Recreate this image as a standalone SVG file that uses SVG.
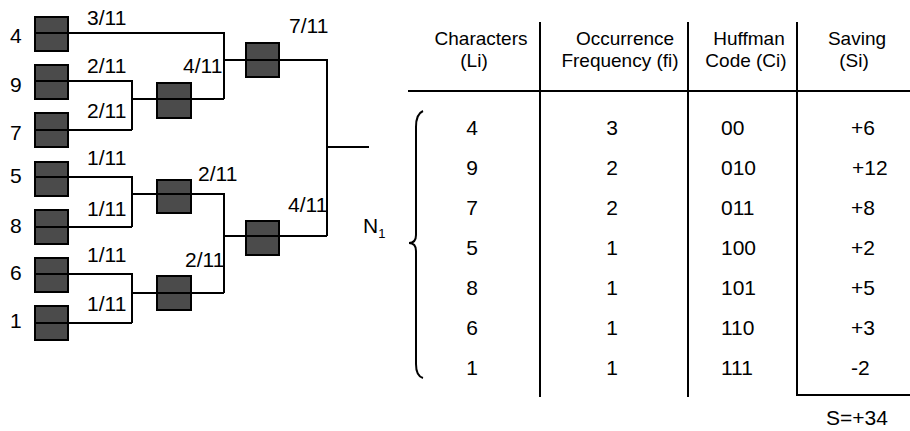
<svg xmlns="http://www.w3.org/2000/svg" width="910" height="431" viewBox="0 0 910 431">
<style>
.ln{stroke:#000;stroke-width:2;fill:none}
.box{fill:#4b4b4b;stroke:#000;stroke-width:2}
text{font-family:"Liberation Sans",Arial,sans-serif;font-size:21px;fill:#000}
.c{text-anchor:middle}
.h{font-size:19px;text-anchor:middle}
.d{font-size:22px}
</style>
<rect width="910" height="431" fill="#fff"/>
<g id="nodes">
<g id="leaf4"><rect class="box" x="35" y="17" width="33" height="34"/><text x="10" y="43">4</text></g>
<g id="leaf9"><rect class="box" x="35" y="65" width="33" height="34"/><text x="10" y="92">9</text></g>
<g id="leaf7"><rect class="box" x="35" y="113" width="33" height="34"/><text x="10" y="140">7</text></g>
<g id="leaf5"><rect class="box" x="35" y="162" width="33" height="34"/><text x="10" y="183">5</text></g>
<g id="leaf8"><rect class="box" x="35" y="210" width="33" height="34"/><text x="10" y="233">8</text></g>
<g id="leaf6"><rect class="box" x="35" y="258" width="33" height="34"/><text x="10" y="280">6</text></g>
<g id="leaf1"><rect class="box" x="35" y="306" width="33" height="34"/><text x="10" y="328">1</text></g>
<g id="n97"><rect class="box" x="157" y="83" width="34" height="35"/></g>
<g id="n58"><rect class="box" x="157" y="180" width="34" height="33"/></g>
<g id="n61"><rect class="box" x="157" y="276" width="34" height="34"/></g>
<g id="ntop"><rect class="box" x="246" y="43" width="33" height="34"/></g>
<g id="nbot"><rect class="box" x="246" y="221" width="33" height="34"/></g>
</g>
<g id="connectors">
<path class="ln" d="M35,33H224V99M35,81H132V130M35,130H132M132,99H224M224,60H327V236M327,147H369M35,177H132V227M35,227H132M132,194H224V293M35,274H132V323M35,323H132M132,293H224M224,236H327"/>
</g>
<g id="weights">
<text x="87" y="25">3/11</text>
<text x="87" y="73">2/11</text>
<text x="87" y="118">2/11</text>
<text x="183" y="73">4/11</text>
<text x="289" y="33">7/11</text>
<text x="87" y="165">1/11</text>
<text x="198" y="181">2/11</text>
<text x="87" y="216">1/11</text>
<text x="288" y="212">4/11</text>
<text x="87" y="262">1/11</text>
<text x="185" y="267">2/11</text>
<text x="87" y="311">1/11</text>
</g>
<g id="n1label"><text x="363" y="233" font-size="20">N<tspan font-size="13" dy="5">1</tspan></text></g>
<g id="brace"><path class="ln" stroke-width="1.8" d="M423,111Q416,114 416,127V235Q416,243 409,243Q416,243 416,251V364Q416,376 423,378"/></g>
<g id="table">
<path class="ln" d="M540,22V397M688,22V397M797,22V395H910M408,91H910"/>
<text class="h" x="481" y="45">Characters</text>
<text class="h" x="474" y="67">(Li)</text>
<text class="h" x="625" y="45">Occurrence</text>
<text class="h" x="620" y="67">Frequency (fi)</text>
<text class="h" x="749" y="45">Huffman</text>
<text class="h" x="746" y="67">Code (Ci)</text>
<text class="h" x="857" y="45">Saving</text>
<text class="h" x="854" y="67">(Si)</text>
<g class="d">
<g class="c">
<text x="472" y="135">4</text><text x="472" y="175">9</text><text x="472" y="215">7</text><text x="472" y="255">5</text><text x="472" y="295">8</text><text x="472" y="335">6</text><text x="472" y="375">1</text>
<text x="612" y="135">3</text><text x="612" y="175">2</text><text x="612" y="215">2</text><text x="612" y="255">1</text><text x="612" y="295">1</text><text x="612" y="335">1</text><text x="612" y="375">1</text>
</g>
<text x="721" y="135">00</text><text x="721" y="175">010</text><text x="721" y="215">011</text><text x="721" y="255">100</text><text x="721" y="295">101</text><text x="721" y="335">110</text><text x="721" y="375">111</text>
<text x="851" y="135">+6</text><text x="852" y="175">+12</text><text x="851" y="215">+8</text><text x="851" y="255">+2</text><text x="851" y="295">+5</text><text x="851" y="335">+3</text><text x="851" y="375">-2</text>
<text x="826" y="425" font-size="23">S=+34</text>
</g>
</g>
</svg>
